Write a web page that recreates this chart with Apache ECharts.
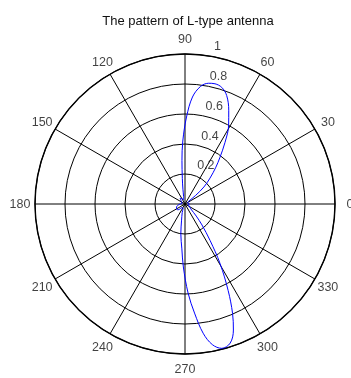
<!DOCTYPE html>
<html>
<head>
<meta charset="utf-8">
<title>The pattern of L-type antenna</title>
<script src="https://cdn.jsdelivr.net/npm/echarts@6/dist/echarts.min.js"></script>
<style>
  html, body { margin: 0; padding: 0; background: #fff; }
  #chart { width: 351px; height: 378px; }
</style>
</head>
<body>
<div id="chart"></div>
<script>
// Radiation pattern: angle (degrees) and normalised field magnitude
var thetaDeg = [0, 15, 30, 36, 39, 42, 46, 50, 53, 57, 61, 65, 69, 72.5, 76, 79, 82.5, 86, 89, 92, 94, 96, 98, 101,
  108, 120, 131, 145, 165, 185, 200, 210, 220, 232, 245, 252, 258, 262, 266, 268.5, 272, 275, 278, 281, 284.3,
  288, 291, 293.5, 296.5, 300.5, 304.5, 309, 313, 320, 335, 350, 360];
var gain = [0.03, 0.02, 0.02, 0.03, 0.09, 0.17, 0.24, 0.32, 0.385, 0.49, 0.60, 0.69, 0.775, 0.815, 0.826, 0.82, 0.79, 0.715, 0.58, 0.42, 0.29, 0.17, 0.10, 0.05,
  0.03, 0.04, 0.05, 0.03, 0.02, 0.04, 0.06, 0.065, 0.06, 0.03, 0.03, 0.06, 0.11, 0.20, 0.30, 0.42, 0.595, 0.73, 0.87, 0.955, 0.993,
  0.975, 0.90, 0.795, 0.645, 0.46, 0.295, 0.18, 0.11, 0.05, 0.03, 0.02, 0.03];

// Angle ticks around the rim and radius ticks along the 82 degree ray
var angleTicks = [0, 30, 60, 90, 120, 150, 180, 210, 240, 270, 300, 330];
var angleTickLabels = ['0', '30', '60', '90', '120', '150', '180', '210', '240', '270', '300', '330'];
var radiusTicks = [0.2, 0.4, 0.6, 0.8, 1];
var radiusTickLabels = ['0.2', '0.4', '0.6', '0.8', '1'];
var radiusLabelAngle = 82;
var angleLabelRadius = 1.1;

var textFont = 'Liberation Sans, Arial, Helvetica, sans-serif';
var chart = echarts.init(document.getElementById('chart'));

var patternData = thetaDeg.map(function (t, i) { return [gain[i], t]; });
var angleLabelData = angleTicks.map(function (a, i) { return { value: [angleLabelRadius, a], name: angleTickLabels[i] }; });
var radiusLabelData = radiusTicks.map(function (r, i) { return { value: [r, radiusLabelAngle], name: radiusTickLabels[i] }; });

chart.setOption({
  backgroundColor: '#ffffff',
  animation: false,
  title: {
    text: 'The pattern of L-type antenna',
    left: 183, top: 10, textAlign: 'center',
    textStyle: { fontFamily: textFont, fontSize: 13, fontWeight: 'normal', color: '#111' }
  },
  polar: { center: [185, 204], radius: 150 },
  angleAxis: {
    type: 'value', min: 0, max: 360, interval: 30,
    startAngle: 0, clockwise: false,
    axisLine: { show: true, lineStyle: { color: '#000', width: 1.4 } },
    axisTick: { show: false },
    axisLabel: { show: false },
    splitLine: { show: true, lineStyle: { color: '#000', width: 1 } }
  },
  radiusAxis: {
    type: 'value', min: 0, max: 1, interval: 0.2,
    axisLine: { show: false },
    axisTick: { show: false },
    axisLabel: { show: false },
    splitLine: { show: true, lineStyle: { color: '#000', width: 1 } }
  },
  series: [
    {
      type: 'line', coordinateSystem: 'polar', data: patternData,
      showSymbol: false, symbol: 'none', smooth: 0.35,
      lineStyle: { color: '#0000ff', width: 1 },
      silent: true, z: 5
    },
    {
      type: 'scatter', coordinateSystem: 'polar', data: angleLabelData,
      symbolSize: 0, clip: false, silent: true,
      label: {
        show: true, position: 'inside', formatter: '{b}',
        align: 'center', verticalAlign: 'middle', offset: [0, 1],
        fontFamily: textFont, fontSize: 12.5, color: '#111'
      }
    },
    {
      type: 'scatter', coordinateSystem: 'polar', data: radiusLabelData,
      symbolSize: 0, clip: false, silent: true,
      label: {
        show: true, position: 'inside', formatter: '{b}',
        align: 'left', verticalAlign: 'bottom', offset: [8, -2],
        fontFamily: textFont, fontSize: 12.5, color: '#111'
      }
    }
  ]
});
</script>
</body>
</html>
